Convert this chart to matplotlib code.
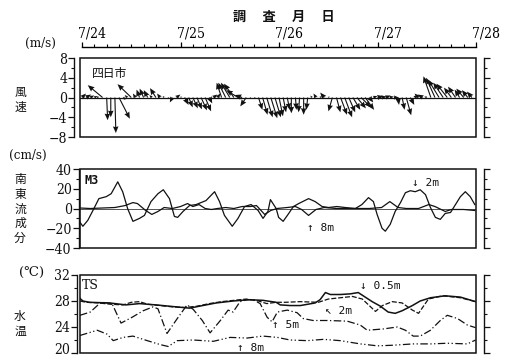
import matplotlib
matplotlib.use('Agg')
import matplotlib.pyplot as plt
from matplotlib.patches import Rectangle
from matplotlib.ticker import MultipleLocator
import matplotlib.transforms as mtrans
import numpy as np

plt.rcParams['font.family'] = ['DejaVu Serif', 'DejaVu Sans', 'Noto Sans CJK JP']

# ---------------- data ----------------
date_labels = ['7/24', '7/25', '7/26', '7/27', '7/28']
date_hours = [0, 24, 48, 72, 96]

# wind (Yokkaichi), hourly vectors, m/s
wind_hours = list(range(96))
wind_u = [0.8, 1.0, 0.8, 0.6, -0.5, -3.0, 0.2, 0.0, 0.2, 2.2,
          0.5, -0.5, -2.8, -0.5, -0.6, -0.8, -0.8, -0.5, -1.2, -0.6,
          -0.3, 0.2, -0.5, 0.8, 0.3, 0.8, 0.8, 1.0, 1.0, 1.2,
          1.2, 0.6, 0.8, 0.6, -1.0, -1.5, -1.8, -2.0, -2.4, -1.5,
          -1.2, 0.2, 0.3, 0.8, 1.0, 1.2, 1.3, 1.2, 0.8, 0.6,
          0.5, 0.0, 0.2, -0.2, 0.0, -0.3, -0.3, -0.5, 0.3, -0.8,
          0.3, -0.8, 0.8, 1.3, 1.5, 1.3, 1.5, 1.8, 2.0, 1.8,
          0.8, 0.8, 1.2, 1.0, 1.0, 0.8, 1.0, 0.2, 0.5, 1.0,
          0.8, 0.6, -0.8, -1.0, -0.5, -1.5, -1.8, -2.2, -2.0, -2.2,
          -1.5, -1.5, -1.0, -1.5, -1.2, -1.0]
wind_v = [0.8, 0.6, 0.4, 0.3, 0.2, 2.5, -4.6, -4.0, -7.2, -4.3,
          -0.5, 0.5, 2.7, 0.8, 1.6, 1.8, 1.5, 0.5, 1.9, 0.8,
          0.3, -0.3, -1.0, 0.6, 0.2, -1.5, -2.0, -2.2, -2.4, -2.6,
          -2.8, -1.2, 0.6, 0.8, 3.0, 3.0, 3.0, 2.8, 1.5, 0.5,
          -1.8, -0.3, -0.2, -2.5, -3.5, -4.0, -4.2, -4.0, -3.8, -3.0,
          -2.5, -3.2, -2.5, -3.0, -3.5, -2.5, 0.4, 0.8, 0.3, 1.0,
          0.2, -2.8, -3.0, -3.5, -4.0, -3.0, -2.5, -2.2, -2.0, -2.5,
          -1.0, 0.3, 0.3, 0.2, 0.4, 0.2, 0.0, -1.5, -2.5, -3.6,
          -1.5, 0.5, 0.8, 0.6, 0.2, 4.3, 4.0, 3.6, 3.0, 2.8,
          2.0, 2.2, 1.6, 1.8, 1.5, 1.2]

# south-east current component at M3, cm/s
cur2_hours = [-0.5, 0.2, 1.4, 2.9, 4.1, 5.9, 7.1, 8.7, 9.9, 11.1, 12.4, 14.0, 15.2,
              16.8, 18.5, 19.8, 21.3, 22.5, 23.3, 24.6, 26.2, 27.8, 30.2, 32.3,
              33.5, 34.7, 36.6, 38.0, 39.6, 41.2, 42.9, 44.1, 45.3, 45.9, 47.3,
              47.9, 49.0, 50.2, 51.5, 52.8, 55.2, 56.8, 58.5, 60.1, 62.1, 64.1,
              66.6, 68.2, 69.8, 71.0, 71.9, 73.1, 73.9, 75.1, 76.3, 77.6, 78.8,
              80.0, 81.2, 82.4, 83.7, 84.9, 86.1, 87.3, 88.5, 89.8, 91.0, 92.2,
              93.4, 94.6, 95.7]
cur2_vals = [-14, -18, -12, 0, 10, 12, 15, 27, 17, 0, -13, -10, -7,
             7, 15, 19, 10, -8, -9, -3, 3, 4, 8, 17,
             7, -7, -18, -10, 2, 4, -2, -10, -3, 9, 0,
             -9, -13, -6, 2, 5, 10, 7, 2, 1, 2, 1,
             0, 4, 11, 7, -6, -20, -23, -16, -3, 6, 16,
             18, 17, 19, 14, 1, -9, -11, -5, -4, 4, 12,
             17, 12, 4]
cur8_hours = [-0.5, 2, 5, 8, 10.5, 12.4, 13.5, 15.5, 17, 18.5, 20, 22, 24, 25.7,
              27, 28.5, 30, 31.5, 33, 35, 37, 39, 41, 42.5, 44.5, 46, 47.5, 50,
              52, 53.5, 55.2, 57, 59, 62, 66, 70, 73, 75, 77, 79, 82, 84.5, 86,
              88.5, 90, 93, 95.7]
cur8_vals = [0.5, 0, 0.5, 1, 3, 6, 5, -2, -6, -3, 1, 0, 2, 5,
             2, 4, 0, -1, 0, 1, 0, 2, 2, 3, -6, -2, 0, 1,
             2, -1, -7, -1, 1, 0, 0, 0, 1, 7, 1, 0, 0, 4, 2,
             -3, -1, -1, -2]

# water temperature at TS, deg C
t05_hours = [-0.5, 0.2, 1.8, 6.7, 10.7, 14.0, 18.0, 22.9, 26.2, 29.4, 32.7, 36.8,
             40.8, 44.1, 47.3, 48.3, 50.7, 53.2, 56.8, 58.0, 59.3, 60.5, 63.0,
             65.4, 67.3, 69.0, 70.7, 72.7, 74.6, 76.3, 78.0, 80.5, 82.4, 84.9,
             88.5, 92.2, 95.9]
t05_vals = [28.4, 28.0, 27.8, 27.7, 27.4, 27.6, 27.4, 27.1, 26.9, 27.3, 27.7, 28.0,
            28.2, 28.1, 27.8, 27.4, 27.3, 27.3, 27.7, 28.2, 29.3, 29.0, 29.0,
            29.1, 29.3, 28.6, 27.9, 27.2, 26.3, 26.1, 26.5, 27.3, 28.0, 28.5,
            28.8, 28.6, 27.9]
t2_hours = [-0.5, 1, 4, 7, 10, 12, 14, 16, 19, 22, 25, 28, 31, 34, 37, 40, 43, 45,
            47.3, 49.5, 53.2, 57.6, 60.0, 65.9, 68.3, 71.5, 73.2, 75.6, 78.0,
            80.5, 82.0, 84.4, 87.8, 92.2, 95.9]
t2_vals = [28.0, 27.8, 27.7, 27.5, 27.4, 27.8, 27.9, 27.5, 27.3, 27.1, 27.0, 27.2,
           27.6, 27.9, 28.1, 28.3, 28.0, 27.6, 27.8, 27.8, 27.9, 27.8, 28.3, 28.7,
           28.3, 26.4, 27.3, 27.9, 27.7, 26.6, 26.1, 28.3, 28.8, 28.5, 27.9]
t5_hours = [-0.5, 2.0, 3.9, 4.9, 7.3, 9.5, 12.2, 14.9, 17.3, 18.5, 20.7, 23.2, 25.6,
            27.1, 29.3, 31.2, 33.7, 35.6, 36.8, 38.5, 40.2, 41.7, 43.4, 45.1, 46.3,
            47.6, 50.0, 52.4, 53.9, 56.3, 59.8, 64.6, 67.8, 69.5, 73.4, 76.8,
            78.8, 80.7, 82.4, 84.9, 87.3, 89.0, 91.5, 93.9, 95.9]
t5_vals = [25.8, 26.3, 27.4, 27.8, 27.6, 24.6, 25.5, 26.5, 27.1, 26.8, 23.0, 25.3,
           27.4, 26.7, 25.0, 23.1, 25.0, 26.6, 26.3, 27.9, 28.2, 28.2, 27.6, 25.5,
           24.8, 26.3, 26.6, 26.2, 25.3, 25.0, 25.0, 24.9, 24.3, 23.5, 23.7, 24.0,
           23.5, 22.6, 22.6, 23.5, 25.0, 25.8, 25.3, 24.3, 23.9]
t8_hours = [-0.5, 3.7, 6.1, 7.6, 10.0, 12.4, 15.9, 19.0, 21.0, 23.2, 27.1, 32.0,
            36.1, 40.2, 44.1, 47.6, 50.7, 54.9, 58.8, 62.9, 67.8, 72.0, 75.9,
            80.7, 84.9, 89.0, 93.9, 95.9]
t8_vals = [22.7, 23.5, 22.9, 21.9, 22.4, 22.6, 21.9, 21.3, 21.0, 21.9, 22.0, 21.8,
           22.4, 22.3, 22.6, 22.4, 22.0, 21.9, 22.1, 21.9, 21.4, 21.1, 21.2,
           21.4, 21.4, 21.5, 21.4, 22.0]

# ---------------- layout ----------------
W, H = 516, 358
fig = plt.figure(figsize=(W / 100, H / 100), dpi=100)
ink = '#111111'

def ax_at(l, t, r, b):
    return fig.add_axes([l / W, 1 - b / H, (r - l) / W, (b - t) / H])

ax1 = ax_at(80, 58, 476, 137)
ax2 = ax_at(80, 169, 476, 248)
ax3 = ax_at(80, 275, 476, 353)

tickfont = dict(family='DejaVu Serif', stretch='condensed', size=10)

def style(ax, ylo, yhi, major, labels, minor, left_off):
    ax.set_xlim(-0.5, 96)
    ax.set_ylim(ylo, yhi)
    ax.spines['top'].set_visible(False)
    ax.spines['bottom'].set_visible(False)
    ax.add_patch(Rectangle((0, 0), 1, 1, transform=ax.transAxes, fill=False,
                           lw=1.1, ec=ink, clip_on=False, zorder=5))
    ax.spines['left'].set_position(('outward', left_off))
    ax.spines['right'].set_position(('outward', 6))
    for s in ('left', 'right'):
        ax.spines[s].set_linewidth(1.0)
        ax.spines[s].set_color(ink)
    ax.yaxis.set_ticks_position('both')
    ax.set_yticks(major)
    ax.set_yticklabels(labels, fontdict=tickfont)
    ax.yaxis.set_minor_locator(MultipleLocator(minor))
    ax.tick_params(axis='y', which='major', direction='out', length=4, width=0.9,
                   pad=1, labelright=False, colors=ink)
    ax.tick_params(axis='y', which='minor', direction='out', length=2.5, width=0.8,
                   colors=ink)
    ax.set_xticks([])

style(ax1, -8, 8, [8, 4, 0, -4, -8], ['8', '4', '0', '\u22124', '\u22128'], 2, 4)
style(ax2, -40, 40, [40, 20, 0, -20, -40], ['40', '20', '0', '\u221220', '\u221240'], 10, 1)
style(ax3, 20, 32, [32, 28, 24, 20], ['32', '28', '24', '20'], 2, 2)

# keep the bottom "20" label inside the picture (the scan clips it)
up = mtrans.ScaledTranslation(0, 4 / 100, fig.dpi_scale_trans)
lab20 = ax3.get_yticklabels()[-1]
lab20.set_transform(lab20.get_transform() + up)

# top date axis
ax1.spines['top'].set_visible(True)
ax1.spines['top'].set_position(('outward', 8))
ax1.spines['top'].set_bounds(0, 96)
ax1.spines['top'].set_linewidth(1.0)
ax1.xaxis.set_ticks_position('top')
ax1.set_xticks(date_hours)
ax1.set_xticklabels(date_labels, fontdict=tickfont)
ax1.xaxis.set_minor_locator(MultipleLocator(3))
ax1.tick_params(axis='x', which='major', direction='out', length=3.5, width=0.9, pad=1)
ax1.tick_params(axis='x', which='minor', direction='out', length=2, width=0.8)
offset = mtrans.ScaledTranslation(-4 / 100, 0, fig.dpi_scale_trans)
for lab in ax1.get_xticklabels():
    lab.set_horizontalalignment('left')
    lab.set_transform(lab.get_transform() + offset)

# ---------------- panel 1: wind sticks ----------------
ax1.axhline(0, color=ink, lw=0.9)
ax1.quiver(wind_hours, np.zeros(len(wind_hours)), wind_u, wind_v,
           angles='uv', scale_units='y', scale=1, width=0.0028,
           headwidth=5, headlength=6, headaxislength=5.5, color=ink, zorder=3)
ax1.text(0.03, 0.8, '四日市', transform=ax1.transAxes, family='Noto Sans CJK JP',
         fontsize=8.5, va='center', ha='left', color=ink)

# ---------------- panel 2: current ----------------
ax2.axhline(0, color='#555555', lw=0.7)
ax2.plot(cur2_hours, cur2_vals, color=ink, lw=0.9)
ax2.plot(cur8_hours, cur8_vals, color=ink, lw=0.9)
ax2.text(0.012, 0.85, 'M3', transform=ax2.transAxes, fontsize=8.5, weight='bold',
         family='DejaVu Sans Mono', va='center', ha='left', color=ink)
mono = ['DejaVu Sans Mono', 'DejaVu Sans']
ax2.text(80.5, 26, '\u2193 2m', fontsize=8, family=mono, va='center', ha='left', color=ink)
ax2.text(54.9, -19.5, '\u2191 8m', fontsize=8, family=mono, va='center', ha='left', color=ink)

# ---------------- panel 3: water temperature ----------------
ax3.plot(t05_hours, t05_vals, color=ink, lw=1.1)
ax3.plot(t2_hours, t2_vals, color=ink, lw=0.9, ls=(0, (4, 1.5)))
ax3.plot(t5_hours, t5_vals, color=ink, lw=0.9, ls=(0, (6, 2, 1, 2)))
ax3.plot(t8_hours, t8_vals, color=ink, lw=0.9, ls=(0, (6, 2, 1, 2, 1, 2)))
ax3.text(0.005, 0.87, 'TS', transform=ax3.transAxes, fontsize=9,
         family='DejaVu Serif', va='center', ha='left', color=ink)
ax3.text(67.8, 30.3, '\u2193 0.5m', fontsize=8, family=mono, va='center', ha='left', color=ink)
ax3.text(59.3, 26.5, '\u2196 2m', fontsize=8, family=mono, va='center', ha='left', color=ink)
ax3.text(46.3, 24.3, '\u2191 5m', fontsize=8, family=mono, va='center', ha='left', color=ink)
ax3.text(37.8, 20.8, '\u2191 8m', fontsize=8, family=mono, va='center', ha='left', color=ink)

# ---------------- outer texts ----------------
cjk = 'Noto Sans CJK JP'
fig.text(284 / W, 1 - 17 / H, '調　 査　 月　 日', family=cjk, fontsize=9.5, weight='bold',
         ha='center', va='center', color=ink)
fig.text(40 / W, 1 - 43 / H, '(m/s)', fontsize=9.5, ha='center', va='center',
         family='DejaVu Serif', stretch='condensed', color=ink)
fig.text(28 / W, 1 - 155 / H, '(cm/s)', fontsize=9.5, ha='center', va='center',
         family='DejaVu Serif', stretch='condensed', color=ink)
fig.text(32 / W, 1 - 273 / H, '(\u2103)', fontsize=9.5, ha='center', va='center',
         family=['DejaVu Serif', 'DejaVu Sans', cjk], color=ink)
fig.text(20 / W, 1 - 100 / H, '風\n速', family=cjk, fontsize=8.5, ha='center',
         va='center', linespacing=1.15, color=ink)
fig.text(20 / W, 1 - 209 / H, '南\n東\n流\n成\n分', family=cjk, fontsize=8.5,
         ha='center', va='center', linespacing=1.15, color=ink)
fig.text(20 / W, 1 - 324 / H, '水\n温', family=cjk, fontsize=8.5, ha='center',
         va='center', linespacing=1.15, color=ink)

fig.savefig('out.png', dpi=100, facecolor='white')
